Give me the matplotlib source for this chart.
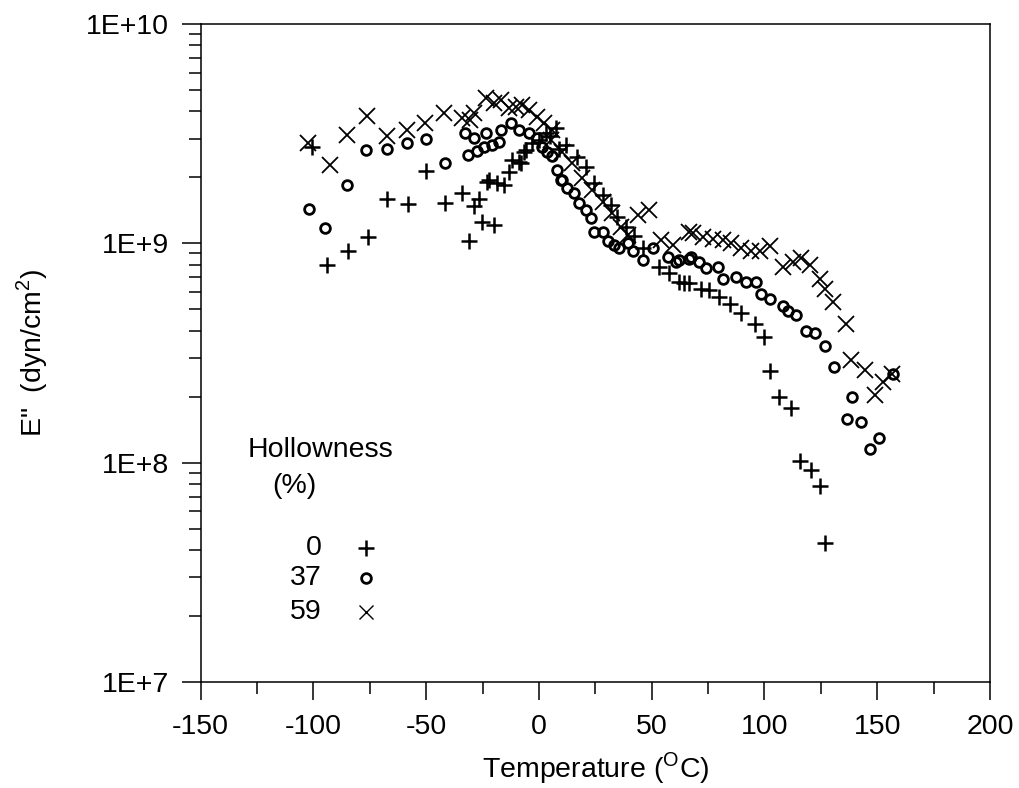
import math
import matplotlib.pyplot as plt
from matplotlib.ticker import FixedLocator, FuncFormatter, LogLocator, MultipleLocator

plt.rcParams["font.family"] = ["Liberation Sans", "DejaVu Sans"]
plt.rcParams["mathtext.fontset"] = "custom"
plt.rcParams["mathtext.rm"] = "Liberation Sans"
plt.rcParams["axes.unicode_minus"] = False

FS = 20.5

# 0 % hollowness (+)
temp_0 = [-100.8, -94.1, -84.9, -75.9, -67.4, -58.1, -50.1, -41.5, -34.1, -31.1,
          -28.9, -26.7, -25.2, -23.0, -22.2, -20.0, -18.5, -15.6, -13.3, -11.9,
          -8.9, -8.1, -6.7, -5.9, -3.0, 0.0, 3.0, 5.0, 7.4, 8.9, 11.9, 17.0,
          20.8, 24.5, 28.2, 31.9, 34.8, 38.6, 42.0, 46.0, 53.4, 57.8, 62.3, 64.5,
          66.7, 71.9, 75.6, 80.0, 84.5, 89.7, 95.6, 100.0, 102.6, 106.3, 111.9,
          115.9, 120.8, 124.5, 126.7]
e_0 = [2.75e9, 8.0e8, 9.2e8, 1.07e9, 1.59e9, 1.51e9, 2.14e9, 1.52e9, 1.69e9, 1.03e9,
       1.48e9, 1.6e9, 1.25e9, 1.91e9, 1.95e9, 1.21e9, 1.88e9, 1.85e9, 2.12e9, 2.4e9,
       2.36e9, 2.32e9, 2.62e9, 2.66e9, 2.86e9, 2.96e9, 3.2e9, 3.1e9, 3.34e9, 2.7e9,
       2.81e9, 2.48e9, 2.23e9, 1.88e9, 1.66e9, 1.5e9, 1.32e9, 1.19e9, 1.08e9, 9.5e8,
       7.8e8, 7.3e8, 6.7e8, 6.6e8, 6.6e8, 6.2e8, 6.1e8, 5.7e8, 5.3e8, 4.8e8, 4.3e8,
       3.75e8, 2.62e8, 1.99e8, 1.77e8, 1.02e8, 9.3e7, 7.8e7, 4.3e7]

# 37 % hollowness (o)
temp_37 = [-101.8, -94.8, -85.2, -76.6, -67.4, -58.6, -49.9, -41.5, -32.6, -31.6,
           -28.9, -27.4, -24.5, -23.7, -20.8, -17.8, -17.0, -12.6, -8.9, -4.4, -0.8,
           1.5, 3.7, 5.9, 8.1, 9.6, 10.4, 12.6, 15.6, 17.8, 20.8, 23.0, 24.5, 28.2,
           30.4, 33.4, 35.6, 39.3, 41.5, 46.0, 50.4, 57.0, 60.8, 62.3, 66.7, 67.4,
           71.1, 74.1, 79.3, 81.5, 87.5, 91.9, 96.3, 98.6, 102.3, 108.2, 110.4,
           114.1, 118.6, 122.3, 126.7, 130.7, 136.6, 139.0, 143.0, 147.0, 150.9, 156.8]
e_37 = [1.44e9, 1.17e9, 1.85e9, 2.66e9, 2.69e9, 2.86e9, 2.99e9, 2.32e9, 3.18e9, 2.53e9,
        3.01e9, 2.64e9, 2.76e9, 3.18e9, 2.81e9, 2.9e9, 3.29e9, 3.52e9, 3.29e9, 3.18e9,
        3.01e9, 2.76e9, 2.62e9, 2.5e9, 2.16e9, 1.94e9, 1.94e9, 1.78e9, 1.69e9, 1.52e9,
        1.42e9, 1.3e9, 1.13e9, 1.13e9, 1.03e9, 9.8e8, 9.5e8, 1.0e9, 9.2e8, 8.4e8,
        9.5e8, 8.7e8, 8.2e8, 8.4e8, 8.5e8, 8.7e8, 8.2e8, 7.7e8, 7.8e8, 6.9e8, 7.0e8,
        6.7e8, 6.7e8, 5.9e8, 5.6e8, 5.2e8, 4.9e8, 4.7e8, 4.0e8, 3.9e8, 3.4e8, 2.74e8,
        1.59e8, 2.0e8, 1.54e8, 1.15e8, 1.3e8, 2.55e8]

# 59 % hollowness (x)
temp_59 = [-102.3, -92.6, -85.2, -76.3, -67.4, -58.6, -50.4, -42.2, -34.1, -30.4,
           -28.9, -23.7, -20.0, -17.0, -13.3, -10.4, -7.4, -4.4, -0.8, 2.2, 5.2, 5.9,
           10.4, 14.8, 19.3, 23.7, 28.2, 32.6, 36.3, 39.3, 43.7, 48.9, 54.1, 59.3,
           66.7, 68.2, 72.6, 77.1, 81.5, 85.2, 89.7, 94.1, 97.8, 102.3, 108.2, 112.6,
           116.4, 120.1, 124.5, 126.7, 130.4, 136.3, 138.5, 144.5, 148.9, 152.6, 156.4]
e_59 = [2.86e9, 2.27e9, 3.12e9, 3.8e9, 3.08e9, 3.29e9, 3.55e9, 3.92e9, 3.72e9, 3.65e9,
        3.92e9, 4.58e9, 4.35e9, 4.5e9, 4.13e9, 4.2e9, 4.28e9, 4.06e9, 3.78e9, 3.52e9,
        2.96e9, 3.29e9, 2.62e9, 2.32e9, 1.98e9, 1.75e9, 1.55e9, 1.37e9, 1.19e9, 1.09e9,
        1.35e9, 1.42e9, 1.04e9, 9.8e8, 1.13e9, 1.11e9, 1.07e9, 1.05e9, 1.04e9, 1.0e9,
        9.5e8, 9.2e8, 9.2e8, 9.7e8, 7.8e8, 8.2e8, 8.6e8, 8.0e8, 6.9e8, 6.2e8, 5.4e8,
        4.3e8, 2.94e8, 2.64e8, 2.03e8, 2.34e8, 2.55e8]

legend_labels = ["0", "37", "59"]

fig = plt.figure(figsize=(10.19, 7.88), dpi=100)
ax = fig.add_axes([0.197, 0.1345, 0.7745, 0.835])

ax.plot(temp_0, e_0, ls="none", marker="+", ms=12, mew=1.8, color="black")
ax.plot(temp_37, e_37, ls="none", marker="o", ms=7, mew=2.0, mfc="none", color="black")
ax.plot(temp_59, e_59, ls="none", marker="x", ms=11, mew=1.3, color="black")

ax.set_yscale("log")
ax.set_xlim(-150, 200)
ax.set_ylim(1e7, 1e10)
ax.xaxis.set_major_locator(MultipleLocator(50))
ax.xaxis.set_minor_locator(MultipleLocator(25))
ax.yaxis.set_major_locator(FixedLocator([1e7, 1e8, 1e9, 1e10]))
ax.yaxis.set_minor_locator(LogLocator(base=10, subs=range(2, 10)))
ax.yaxis.set_major_formatter(FuncFormatter(lambda v, p: "1E+%d" % round(math.log10(v))))
ax.yaxis.set_minor_formatter(FuncFormatter(lambda v, p: ""))

ax.tick_params(which="both", direction="out", top=False, right=False, width=1.1, labelsize=FS)
ax.tick_params(axis="y", which="major", length=14, pad=9)
ax.tick_params(axis="y", which="minor", length=9)
ax.tick_params(axis="x", which="major", length=13, pad=10)
ax.tick_params(axis="x", which="minor", length=8.5)
for s in ax.spines.values():
    s.set_linewidth(1.1)

ax.set_xlabel("Temperature ($^{\\mathrm{O}}$C)", fontsize=FS, labelpad=7)
ax.set_ylabel('E"  (dyn/cm$^{\\mathrm{2}}$)', fontsize=FS, labelpad=26)

# hand-drawn legend like the original
tr = ax.transAxes
ax.text(0.152, 0.353, "Hollowness", transform=tr, ha="center", va="center", fontsize=FS)
ax.text(0.119, 0.298, "(%)", transform=tr, ha="center", va="center", fontsize=FS)
leg_y = [0.204, 0.158, 0.106]
leg_style = [dict(marker="+", ms=12, mew=1.8), dict(marker="o", ms=7, mew=2.0, mfc="none"),
             dict(marker="x", ms=10, mew=1.0)]
for lab, yy, st in zip(legend_labels, leg_y, leg_style):
    ax.text(0.153, yy, lab, transform=tr, ha="right", va="center", fontsize=FS)
    ax.plot([0.209], [yy], transform=tr, ls="none", color="black", clip_on=False, **st)

fig.savefig("out.png", dpi=100)
